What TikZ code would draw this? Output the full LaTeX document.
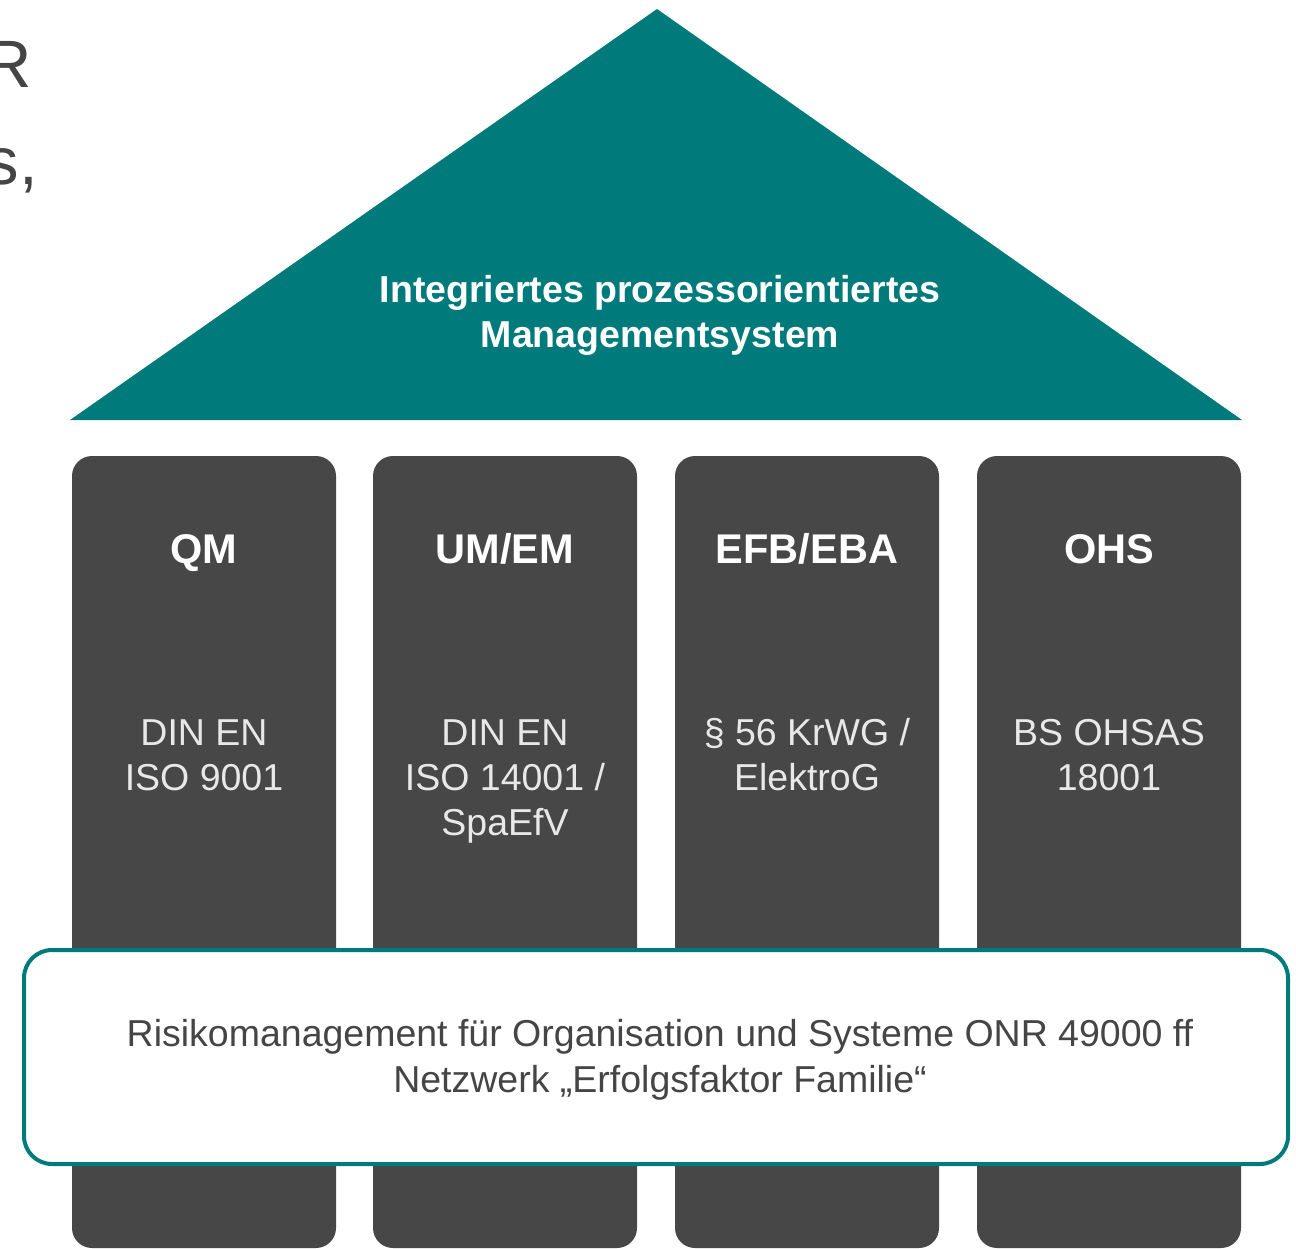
\documentclass[tikz,border=0pt]{standalone}
\usepackage{fontspec}
\setmainfont{Liberation Sans}
\usetikzlibrary{positioning}
\definecolor{roofteal}{RGB}{0,122,122}
\definecolor{pillargray}{RGB}{71,71,71}
\definecolor{textgray}{RGB}{69,69,69}
\tikzstyle{pillar} = [rectangle, rounded corners=20pt, minimum width=264pt, minimum height=792pt, fill=pillargray, inner sep=0pt]
\tikzstyle{title} = [text=white, font=\fontsize{41.5}{48}\selectfont\bfseries, anchor=base, inner sep=0pt]
\tikzstyle{norm} = [text=white!91!black, font=\fontsize{37.5}{45}\selectfont, align=center, anchor=base, inner sep=0pt]
\tikzstyle{band} = [rectangle, rounded corners=28pt, draw=roofteal, line width=4pt, fill=white, minimum width=1264pt, minimum height=214pt, inner sep=0pt]
\tikzstyle{cut} = [text=textgray, font=\fontsize{67}{80}\selectfont, anchor=base east, inner sep=0pt]

\begin{document}
\begin{tikzpicture}[x=1pt, y=-1pt]
\useasboundingbox (0,0) rectangle (1296,1249);

% Cut-off heading text
\node (head-r) [cut] at (32,88) {R};
\node (head-s) [cut] at (38,185) {s,};

% Roof
\fill [roofteal] (70,420) -- (657,9) -- (1242,420) -- cycle;
\node (roof-text) [text=white, font=\fontsize{37.5}{45}\selectfont\bfseries, align=center, anchor=base, inner sep=0pt] at (660,348) {Integriertes prozessorientiertes\\Managementsystem};

% Pillars
\node (qm) [pillar] at (204,852) {};
\node (um-em) [pillar] at (505,852) {};
\node (efb-eba) [pillar] at (807,852) {};
\node (ohs) [pillar] at (1109,852) {};

\node (qm-title) [title] at ([yshift=-108pt]qm.north) {QM};
\node (um-em-title) [title] at ([yshift=-108pt]um-em.north) {UM/EM};
\node (efb-eba-title) [title] at ([yshift=-108pt]efb-eba.north) {EFB/EBA};
\node (ohs-title) [title] at ([yshift=-108pt]ohs.north) {OHS};

\node (qm-norm) [norm] at ([yshift=-335pt]qm.north) {DIN EN\\ISO 9001};
\node (um-em-norm) [norm] at ([yshift=-380pt]um-em.north) {DIN EN\\ISO 14001 /\\SpaEfV};
\node (efb-eba-norm) [norm] at ([yshift=-335pt]efb-eba.north) {\S{} 56 KrWG /\\ElektroG};
\node (ohs-norm) [norm] at ([yshift=-335pt]ohs.north) {BS OHSAS\\18001};

% Foundation band
\node (risk) [band] at (656,1057) {};
\node (risk-text) [text=textgray, font=\fontsize{37.5}{46}\selectfont, align=center, anchor=base, inner sep=0pt] at (660,1092) {Risikomanagement für Organisation und Systeme ONR 49000 ff\\Netzwerk „Erfolgsfaktor Familie“};

\end{tikzpicture}
\end{document}
